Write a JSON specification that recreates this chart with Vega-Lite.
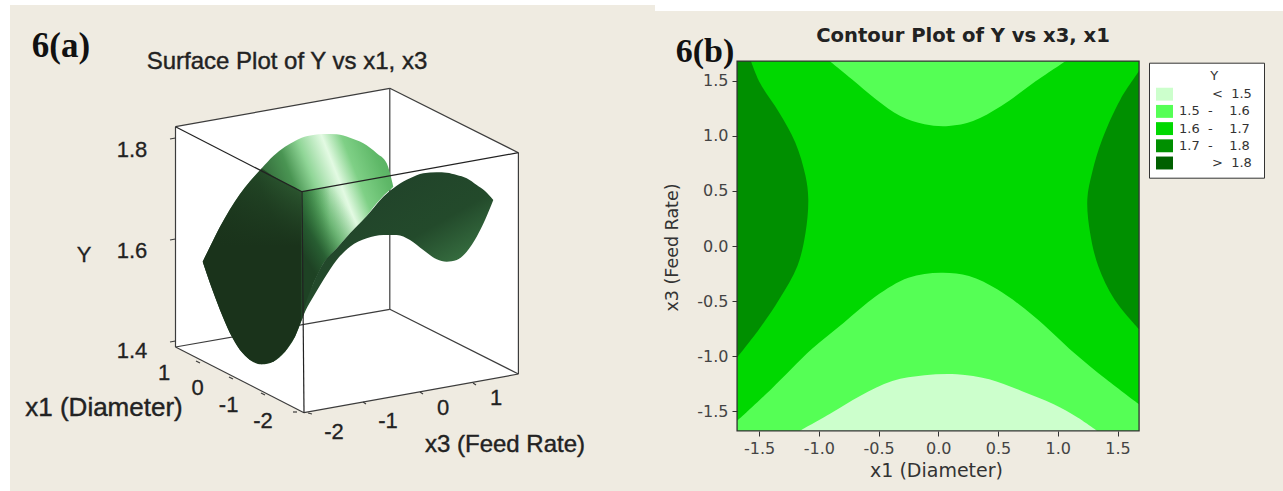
{
"$schema":"https://vega.github.io/schema/vega-lite/v6.json",
"background":"white","padding":0,"spacing":0,"bounds":"flush",
"config":{"view":{"stroke":null},"concat":{"spacing":0}},
"hconcat":[
{"width":650,"height":491,
"encoding":{
"x":{"field":"u","type":"quantitative","scale":{"domain":[0,650],"nice":false,"zero":false},"axis":null},
"y":{"field":"v","type":"quantitative","scale":{"domain":[491,0],"nice":false,"zero":false},"axis":null}},
"layer":[
{"data":{"values":[{"u":10,"u2":650,"v":5,"v2":491}]},"mark":{"type":"rect","color":"#efebe1"},"encoding":{"x2":{"field":"u2"},"y2":{"field":"v2"}}},
{"data":{"values":[{"u":175.5,"v":126.7,"v2":346.7},{"u":304,"v":103.7,"v2":412.7},{"u":389.8,"v":88.3,"v2":397.2},{"u":518.4,"v":152.7,"v2":374}]},"mark":{"type":"area","color":"#ffffff"},"encoding":{"y2":{"field":"v2"}}},
{"data":{"values":[
{"u":175.5,"v":126.7,"u2":389.8,"v2":88.3},{"u":389.8,"v":88.3,"u2":518.4,"v2":152.7},{"u":389.8,"v":88.3,"u2":389.8,"v2":309.3},{"u":389.8,"v":309.3,"u2":175.5,"v2":347},{"u":389.8,"v":309.3,"u2":518.4,"v2":374},
{"u":175.5,"v":126.7,"u2":175.5,"v2":347},{"u":175.5,"v":347,"u2":304,"v2":412.7},{"u":304,"v":412.7,"u2":518.4,"v2":374},{"u":518.4,"v":374,"u2":518.4,"v2":152.7},
{"u":170,"v":139,"u2":175.5,"v2":138},{"u":170,"v":240,"u2":175.5,"v2":239},{"u":170,"v":342,"u2":175.5,"v2":341},
{"u":200,"v":363,"u2":196,"v2":361},{"u":233,"v":379,"u2":229,"v2":377},{"u":265,"v":395,"u2":261,"v2":393},{"u":297,"v":412,"u2":293,"v2":412},
{"u":308,"v":413,"u2":312,"v2":414},{"u":363,"v":402,"u2":366,"v2":404},{"u":420,"v":392,"u2":423,"v2":394},{"u":473,"v":383,"u2":476,"v2":385}
]},"mark":{"type":"rule","color":"#3c3c3c","strokeWidth":1.2},"encoding":{"x2":{"field":"u2"},"y2":{"field":"v2"}}},
{"data":{"values":[
{"u":202.7,"v":261.7,"v2":261.7},{"u":210,"v":246.7,"v2":283.3},{"u":220,"v":226.7,"v2":310},{"u":230,"v":209.3,"v2":333.3},{"u":240,"v":194,"v2":350},{"u":250,"v":181.3,"v2":360},{"u":261.7,"v":168.3,"v2":364.3},{"u":273.3,"v":156,"v2":361.7},{"u":285,"v":146.7,"v2":351.7},{"u":295,"v":141,"v2":336.7},{"u":301.7,"v":137.7,"v2":320},{"u":313.3,"v":135,"v2":283.3},{"u":323.3,"v":134,"v2":263.3},{"u":336.7,"v":134.3,"v2":248.3},{"u":350,"v":137.7,"v2":233.3},{"u":363.3,"v":143.3,"v2":220},{"u":376.7,"v":153.3,"v2":203.3},{"u":386.7,"v":163.3,"v2":192.7},{"u":390,"v":173.3,"v2":190},{"u":393.3,"v":186.7,"v2":186.7}
]},"mark":{"type":"area","interpolate":"monotone","color":{"gradient":"linear","x1":0,"y1":0.5,"x2":1,"y2":0.026,"stops":[{"offset":0,"color":"#1a331b"},{"offset":0.35,"color":"#2d5f34"},{"offset":0.5,"color":"#4a9553"},{"offset":0.59,"color":"#8fd596"},{"offset":0.7,"color":"#e3fae3"},{"offset":0.785,"color":"#7fd086"},{"offset":0.9,"color":"#5fb868"},{"offset":1,"color":"#55a860"}]}},"encoding":{"y2":{"field":"v2"}}},
{"data":{"values":[
{"u":202.7,"v":261.7,"v2":261.7},{"u":210,"v":246.7,"v2":283.3},{"u":220,"v":226.7,"v2":310},{"u":230,"v":209.3,"v2":333.3},{"u":240,"v":194,"v2":350},{"u":250,"v":181.3,"v2":360},{"u":261.7,"v":168.3,"v2":364.3},{"u":273.3,"v":176.3,"v2":361.7},{"u":285,"v":182.7,"v2":351.7},{"u":295,"v":187.5,"v2":336.7},{"u":301.7,"v":191.7,"v2":320}
]},"mark":{"type":"area","color":{"gradient":"linear","x1":0,"y1":0,"x2":0,"y2":1,"stops":[{"offset":0,"color":"rgba(26,51,27,0.55)"},{"offset":0.4,"color":"rgba(26,51,27,1)"},{"offset":1,"color":"rgba(26,51,27,1)"}]}},"encoding":{"y2":{"field":"v2"}}},
{"data":{"values":[
{"u":301.7,"v":191.7,"v2":320},{"u":310,"v":190.2,"v2":292},{"u":320,"v":188.4,"v2":269},{"u":330,"v":186.6,"v2":255}
]},"mark":{"type":"area","color":{"gradient":"linear","x1":0,"y1":0,"x2":1,"y2":0,"stops":[{"offset":0,"color":"rgba(40,95,50,0.9)"},{"offset":1,"color":"rgba(70,160,80,0)"}]}},"encoding":{"y2":{"field":"v2"}}},
{"data":{"values":[
{"u":301.7,"v":191.7,"v2":320},{"u":313.3,"v":189.6,"v2":283.3},{"u":323.3,"v":187.8,"v2":263.3},{"u":336.7,"v":185.4,"v2":248.3},{"u":350,"v":183,"v2":233.3},{"u":363.3,"v":180.6,"v2":220},{"u":376.7,"v":178.2,"v2":203.3},{"u":393,"v":175,"v2":187}
]},"mark":{"type":"area","color":{"gradient":"linear","x1":0.7,"y1":0,"x2":0,"y2":0.7,"stops":[{"offset":0.3,"color":"rgba(70,160,80,0)"},{"offset":0.5,"color":"rgba(60,140,70,0.4)"},{"offset":0.72,"color":"rgba(35,85,45,0.85)"},{"offset":0.88,"color":"rgba(30,66,36,1)"}]}},"encoding":{"y2":{"field":"v2"}}},
{"data":{"values":[
{"u":301.7,"v":320,"v2":320},{"u":305,"v":306.7,"v2":311.7},{"u":313.3,"v":283.3,"v2":296.7},{"u":323.3,"v":263.3,"v2":280},{"u":336.7,"v":248.3,"v2":260},{"u":350,"v":233.3,"v2":246.7},{"u":366.7,"v":216,"v2":238.3},{"u":383.3,"v":196.7,"v2":235},{"u":396.7,"v":185.7,"v2":235},{"u":410,"v":178.3,"v2":240},{"u":423.3,"v":173.3,"v2":250},{"u":436.7,"v":172.3,"v2":259.3},{"u":446.7,"v":172.7,"v2":261.7},{"u":456.7,"v":175,"v2":260},{"u":466.7,"v":178.3,"v2":251.7},{"u":476.7,"v":185,"v2":236.7},{"u":485,"v":191,"v2":220},{"u":493.3,"v":200,"v2":200}
]},"mark":{"type":"area","interpolate":"monotone","color":{"gradient":"linear","x1":0.35,"y1":0.1,"x2":0.8,"y2":0.7,"stops":[{"offset":0,"color":"#21432a"},{"offset":0.55,"color":"#234a2b"},{"offset":1,"color":"#3a7544"}]}},"encoding":{"y2":{"field":"v2"}}},
{"data":{"values":[{"u":175.5,"v":126.7,"u2":302,"v2":191.7},{"u":302,"v":191.7,"u2":518.4,"v2":152.7},{"u":302,"v":191.7,"u2":304,"v2":412.7}]},"mark":{"type":"rule","color":"#222222","strokeWidth":1.2},"encoding":{"x2":{"field":"u2"},"y2":{"field":"v2"}}},
{"data":{"values":[{"t":"6(a)","u":61,"v":57}]},"mark":{"type":"text","font":"Liberation Serif","fontWeight":"bold","fontSize":35,"align":"center","baseline":"alphabetic","color":"#111111"},"encoding":{"text":{"field":"t"}}},
{"data":{"values":[{"t":"Surface Plot of Y vs x1, x3","u":287,"v":62}]},"mark":{"type":"text","font":"Liberation Sans","fontSize":24,"align":"center","baseline":"middle","color":"#222222","stroke":"#222222","strokeWidth":0.4},"encoding":{"text":{"field":"t"}}},
{"data":{"values":[
{"t":"1.8","u":132,"v":150},{"t":"1.6","u":132,"v":251},{"t":"1.4","u":132,"v":351},{"t":"Y","u":84,"v":255},
{"t":"1","u":164,"v":373},{"t":"0","u":197.6,"v":388},{"t":"-1","u":228.6,"v":405},{"t":"-2","u":263,"v":421},
{"t":"-2","u":334,"v":432},{"t":"-1","u":388,"v":421},{"t":"0","u":443,"v":408},{"t":"1","u":496,"v":398}
]},"mark":{"type":"text","font":"Liberation Sans","fontSize":22,"align":"center","baseline":"middle","color":"#222222","stroke":"#222222","strokeWidth":0.3},"encoding":{"text":{"field":"t"}}},
{"data":{"values":[{"t":"x1 (Diameter)","u":104,"v":408}]},"mark":{"type":"text","font":"Liberation Sans","fontSize":26,"align":"center","baseline":"middle","color":"#222222","stroke":"#222222","strokeWidth":0.4},"encoding":{"text":{"field":"t"}}},
{"data":{"values":[{"t":"x3 (Feed Rate)","u":505,"v":445}]},"mark":{"type":"text","font":"Liberation Sans","fontSize":24,"align":"center","baseline":"middle","color":"#222222","stroke":"#222222","strokeWidth":0.4},"encoding":{"text":{"field":"t"}}}
]},
{"width":633,"height":491,
"encoding":{
"x":{"field":"x1","type":"quantitative","scale":{"domain":[-2.4126,2.8845],"nice":false,"zero":false},"axis":{"values":[-1.5,-1,-0.5,0,0.5,1,1.5],"format":".1f","labelExpr":"replace(datum.label,'\u2212','-')","offset":-60,"domain":false,"grid":false,"zindex":1,"tickColor":"#333333","tickSize":5,"labelColor":"#444444","labelFontSize":16,"labelFont":"DejaVu Sans","labelPadding":4,"title":"x1 (Diameter)","titleFont":"DejaVu Sans","titleFontSize":19,"titleFontWeight":"normal","titleColor":"#333333","titleX":286,"titleY":39,"titleAlign":"center","titleBaseline":"middle"}},
"y":{"field":"x3","type":"quantitative","scale":{"domain":[-2.2212,2.2303],"nice":false,"zero":false},"axis":{"values":[-1.5,-1,-0.5,0,0.5,1,1.5],"format":".1f","labelExpr":"replace(datum.label,'\u2212','-')","offset":-87,"domain":false,"grid":false,"zindex":1,"tickColor":"#333333","tickSize":5,"labelColor":"#444444","labelFontSize":16,"labelFont":"DejaVu Sans","labelPadding":4,"title":"x3 (Feed Rate)","titleFont":"DejaVu Sans","titleFontSize":17.5,"titleFontWeight":"normal","titleColor":"#333333","titleX":-65,"titleY":247,"titleAlign":"center","titleBaseline":"middle"}}},
"layer":[
{"data":{"values":[{"x1":-2.4126,"x1b":2.8845,"x3":2.1306,"x3b":-2.2212},{"x1":-2.4126,"x1b":-2.3707,"x3":2.185,"x3b":2.13}]},"mark":{"type":"rect","color":"#efebe1"},
"encoding":{"x2":{"field":"x1b"},"y2":{"field":"x3b"}}},
{"data":{"values":[{"x1":-1.684,"x1b":1.68,"x3":1.677,"x3b":-1.677,"band":"1.6 - 1.7"}]},"mark":{"type":"rect"},
"encoding":{"x2":{"field":"x1b"},"y2":{"field":"x3b"},
"color":{"field":"band","type":"nominal","scale":{"domain":["< 1.5","1.5 - 1.6","1.6 - 1.7","1.7 - 1.8","> 1.8"],"range":["#ccffcc","#55ff55","#00d800","#008f00","#006000"]},
"legend":{"orient":"none","legendX":1149,"legendY":62.7,"title":"\u200b\u00a0\u00a0\u00a0\u00a0Y","titleFont":"DejaVu Sans","titleFontSize":13,"titleFontWeight":"normal","titleColor":"#333333","titleAnchor":"middle","titlePadding":3,"labelFont":"DejaVu Sans","labelFontSize":13,"labelColor":"#333333","labelOffset":6,"labelExpr":"(datum.label[0]=='<'||datum.label[0]=='>' ? '\u200b\u00a0\u00a0\u00a0\u00a0\u00a0\u00a0\u00a0\u00a0'+replace(datum.label,' ','\u00a0\u00a0') : replace(datum.label,' - ','\u00a0\u00a0-\u00a0\u00a0\u00a0\u00a0'))+'\u00a0\u200b'","symbolType":"M-1,-.76H1V.76H-1Z","symbolSize":289,"symbolStrokeWidth":0,"rowPadding":1.2,"padding":7,"fillColor":"#ffffff","strokeColor":"#333333","values":["< 1.5","1.5 - 1.6","1.6 - 1.7","1.7 - 1.8","> 1.8"]}}}},
{"data":{"values":[
{"x1":-1.568,"x3":1.677,"band":"1.7 - 1.8"},{"x1":-1.493,"x3":1.48,"band":"1.7 - 1.8"},{"x1":-1.331,"x3":1.208,"band":"1.7 - 1.8"},{"x1":-1.196,"x3":0.937,"band":"1.7 - 1.8"},{"x1":-1.111,"x3":0.634,"band":"1.7 - 1.8"},{"x1":-1.088,"x3":0.423,"band":"1.7 - 1.8"},{"x1":-1.111,"x3":0.121,"band":"1.7 - 1.8"},{"x1":-1.179,"x3":-0.181,"band":"1.7 - 1.8"},{"x1":-1.331,"x3":-0.483,"band":"1.7 - 1.8"},{"x1":-1.5,"x3":-0.755,"band":"1.7 - 1.8"},{"x1":-1.684,"x3":-1.012,"band":"1.7 - 1.8"}
]},"mark":{"type":"area","orient":"horizontal","interpolate":"catmull-rom"},"encoding":{"x2":{"datum":-1.684},"color":{"field":"band","type":"nominal"}}},
{"data":{"values":[
{"x1":1.68,"x3":1.586,"band":"1.7 - 1.8"},{"x1":1.524,"x3":1.329,"band":"1.7 - 1.8"},{"x1":1.372,"x3":0.967,"band":"1.7 - 1.8"},{"x1":1.287,"x3":0.665,"band":"1.7 - 1.8"},{"x1":1.247,"x3":0.423,"band":"1.7 - 1.8"},{"x1":1.27,"x3":0.121,"band":"1.7 - 1.8"},{"x1":1.338,"x3":-0.181,"band":"1.7 - 1.8"},{"x1":1.473,"x3":-0.483,"band":"1.7 - 1.8"},{"x1":1.68,"x3":-0.755,"band":"1.7 - 1.8"}
]},"mark":{"type":"area","orient":"horizontal","interpolate":"catmull-rom"},"encoding":{"x2":{"datum":1.68},"color":{"field":"band","type":"nominal"}}},
{"data":{"values":[
{"x1":-0.909,"x3":1.677,"band":"1.5 - 1.6"},{"x1":-0.723,"x3":1.511,"band":"1.5 - 1.6"},{"x1":-0.52,"x3":1.329,"band":"1.5 - 1.6"},{"x1":-0.318,"x3":1.178,"band":"1.5 - 1.6"},{"x1":-0.115,"x3":1.103,"band":"1.5 - 1.6"},{"x1":0.088,"x3":1.088,"band":"1.5 - 1.6"},{"x1":0.291,"x3":1.133,"band":"1.5 - 1.6"},{"x1":0.527,"x3":1.269,"band":"1.5 - 1.6"},{"x1":0.797,"x3":1.48,"band":"1.5 - 1.6"},{"x1":1.068,"x3":1.677,"band":"1.5 - 1.6"}
]},"mark":{"type":"area","interpolate":"catmull-rom"},"encoding":{"y2":{"datum":1.677},"color":{"field":"band","type":"nominal"}}},
{"data":{"values":[
{"x1":-1.684,"x3":-1.586,"band":"1.5 - 1.6"},{"x1":-1.399,"x3":-1.299,"band":"1.5 - 1.6"},{"x1":-1.061,"x3":-0.937,"band":"1.5 - 1.6"},{"x1":-0.791,"x3":-0.695,"band":"1.5 - 1.6"},{"x1":-0.52,"x3":-0.453,"band":"1.5 - 1.6"},{"x1":-0.25,"x3":-0.287,"band":"1.5 - 1.6"},{"x1":0.02,"x3":-0.242,"band":"1.5 - 1.6"},{"x1":0.257,"x3":-0.272,"band":"1.5 - 1.6"},{"x1":0.493,"x3":-0.393,"band":"1.5 - 1.6"},{"x1":0.797,"x3":-0.634,"band":"1.5 - 1.6"},{"x1":1.135,"x3":-0.967,"band":"1.5 - 1.6"},{"x1":1.405,"x3":-1.208,"band":"1.5 - 1.6"},{"x1":1.68,"x3":-1.435,"band":"1.5 - 1.6"}
]},"mark":{"type":"area","interpolate":"catmull-rom"},"encoding":{"y2":{"datum":-1.677},"color":{"field":"band","type":"nominal"}}},
{"data":{"values":[
{"x1":-1.162,"x3":-1.677,"band":"< 1.5"},{"x1":-0.892,"x3":-1.511,"band":"< 1.5"},{"x1":-0.655,"x3":-1.36,"band":"< 1.5"},{"x1":-0.385,"x3":-1.224,"band":"< 1.5"},{"x1":-0.115,"x3":-1.172,"band":"< 1.5"},{"x1":0.155,"x3":-1.163,"band":"< 1.5"},{"x1":0.426,"x3":-1.208,"band":"< 1.5"},{"x1":0.696,"x3":-1.314,"band":"< 1.5"},{"x1":0.966,"x3":-1.435,"band":"< 1.5"},{"x1":1.169,"x3":-1.556,"band":"< 1.5"},{"x1":1.331,"x3":-1.677,"band":"< 1.5"}
]},"mark":{"type":"area","interpolate":"catmull-rom"},"encoding":{"y2":{"datum":-1.677},"color":{"field":"band","type":"nominal"}}},
{"data":{"values":[{"x1":-1.684,"x1b":1.68,"x3":1.677,"x3b":-1.677}]},"mark":{"type":"rect","fillOpacity":0,"stroke":"#333333","strokeWidth":1.3},"encoding":{"x2":{"field":"x1b"},"y2":{"field":"x3b"}}},
{"data":{"values":[{"t":"Contour Plot of Y vs x3, x1","x1":0.207,"x3":1.904}]},"mark":{"type":"text","font":"DejaVu Sans","fontWeight":"bold","fontSize":19.6,"align":"center","baseline":"middle","color":"#222222"},"encoding":{"text":{"field":"t"}}},
{"data":{"values":[{"t":"6(b)","x1":-1.952,"x3":1.668}]},"mark":{"type":"text","font":"Liberation Serif","fontWeight":"bold","fontSize":34,"align":"center","baseline":"alphabetic","color":"#111111"},"encoding":{"text":{"field":"t"}}}
]}
]}
